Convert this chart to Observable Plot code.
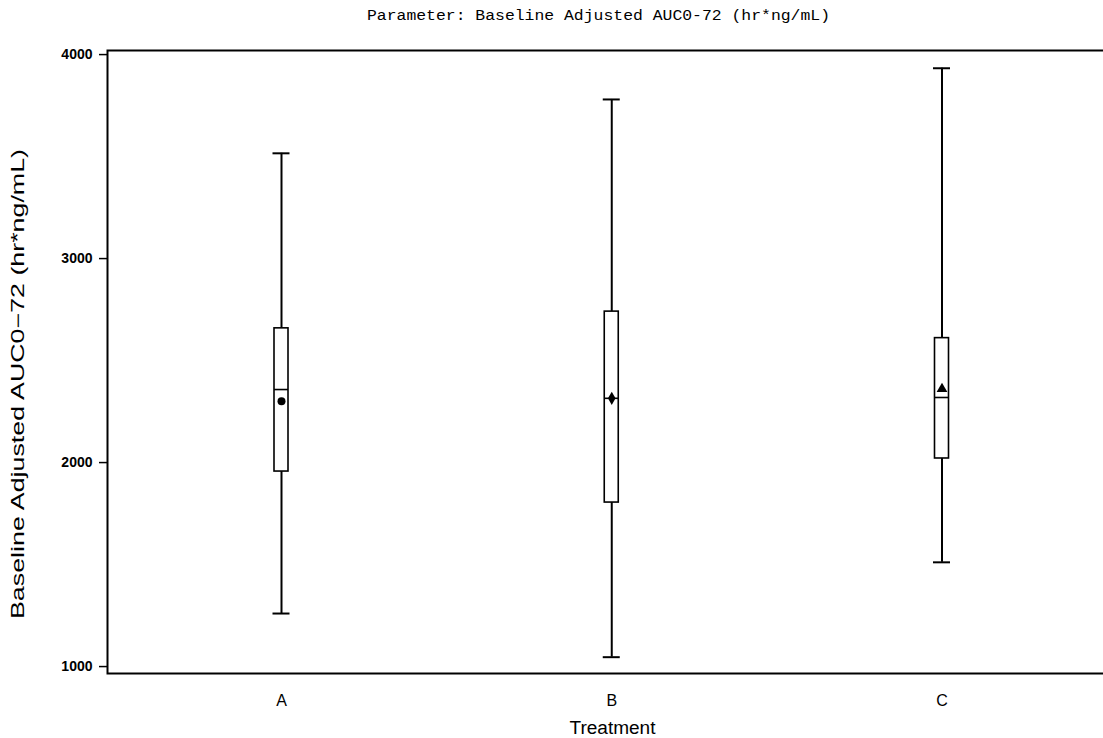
<!DOCTYPE html>
<html>
<head>
<meta charset="utf-8">
<script src="https://cdn.jsdelivr.net/npm/d3@7"></script>
<script src="https://cdn.jsdelivr.net/npm/@observablehq/plot@0.6"></script>
<style>
  html, body { margin: 0; padding: 0; background: #fff; }
  svg { display: block; }
</style>
</head>
<body>
<div id="chart"></div>
<script>
const treatments = ["A", "B", "C"];
const whiskerLow = [1260, 1046, 1511];
const q1 = [1956, 1804, 2020];
const median = [2358, 2315, 2319];
const q3 = [2658, 2740, 2610];
const whiskerHigh = [3516, 3780, 3933];
const meanValue = [2300, 2315, 2361];
const meanSymbols = ["circle", "diamond", "triangle"];
const yTicks = [1000, 2000, 3000, 4000];

const titleText = "Parameter: Baseline Adjusted AUC0-72 (hr*ng/mL)";
const yLabel = "Baseline Adjusted AUC0\u221272 (hr*ng/mL)";
const xLabel = "Treatment";

const data = treatments.map((t, i) => ({
  t, lo: whiskerLow[i], q1: q1[i], med: median[i], q3: q3[i], hi: whiskerHigh[i], mean: meanValue[i]
}));

const yDomain = [966, 4020];

const svg = Plot.plot({
  width: 1103,
  height: 738,
  marginLeft: 107,
  marginRight: 0,
  marginTop: 50,
  marginBottom: 65,
  style: { background: "white", color: "black" },
  x: { type: "band", domain: treatments, range: [274, 948.5], paddingInner: 0.9576, paddingOuter: 0, round: false, axis: null },
  y: { domain: yDomain, axis: null },
  symbol: { domain: treatments, range: meanSymbols },
  marks: [
    // frame (right edge pushed outside the picture)
    Plot.frame({ stroke: "black", strokeWidth: 2, insetRight: -4 }),
    // y axis
    Plot.axisY({ ticks: yTicks, tickSize: 8, tickPadding: 7, tickFormat: d => String(d), fontSize: 14, fontWeight: "bold", fontFamily: "Liberation Sans, Arial, sans-serif", strokeWidth: 1.5, label: null }),
    // x axis labels
    Plot.axisX({ tickSize: 0, tickPadding: 21, fontSize: 16, fontFamily: "Liberation Sans, Arial, sans-serif", label: null }),
    // whiskers
    Plot.ruleX(data, { x: "t", y1: "lo", y2: "q1", stroke: "black", strokeWidth: 2 }),
    Plot.ruleX(data, { x: "t", y1: "q3", y2: "hi", stroke: "black", strokeWidth: 2 }),
    Plot.tickY(data, { x: "t", y: "lo", stroke: "black", strokeWidth: 2, insetLeft: -1.5, insetRight: -1.5 }),
    Plot.tickY(data, { x: "t", y: "hi", stroke: "black", strokeWidth: 2, insetLeft: -1.5, insetRight: -1.5 }),
    // box
    Plot.barY(data, { x: "t", y1: "q1", y2: "q3", fill: "white", stroke: "black", strokeWidth: 1.6 }),
    // median
    Plot.tickY(data, { x: "t", y: "med", stroke: "black", strokeWidth: 1.6 }),
    // mean
    Plot.dot(data, { x: "t", y: "mean", symbol: "t", fill: "black", stroke: "none", r: 4 }),
    // texts
    Plot.text([titleText], { text: d => d, frameAnchor: "top", dx: -7, dy: -42, fontSize: 15.5, fontFamily: "Liberation Mono, Courier New, monospace", fill: "black" }),
    Plot.text([yLabel], { text: d => d, frameAnchor: "left", textAnchor: "middle", rotate: -90, dx: -89, dy: 22, fontSize: 18, fontFamily: "Liberation Sans, Arial, sans-serif", fill: "black" }),
    Plot.text([xLabel], { text: d => d, frameAnchor: "bottom", dx: 7, dy: 60, fontSize: 18, fontFamily: "Liberation Sans, Arial, sans-serif", fill: "black" })
  ]
});

// fit text lengths to the reference
const lengths = { [yLabel]: 470, [xLabel]: 86, [titleText]: 463 };
d3.select(svg).selectAll("text").each(function() {
  const t = this.textContent;
  if (lengths[t]) {
    d3.select(this).attr("textLength", lengths[t]).attr("lengthAdjust", "spacingAndGlyphs");
  }
});

document.getElementById("chart").appendChild(svg);
</script>
</body>
</html>
